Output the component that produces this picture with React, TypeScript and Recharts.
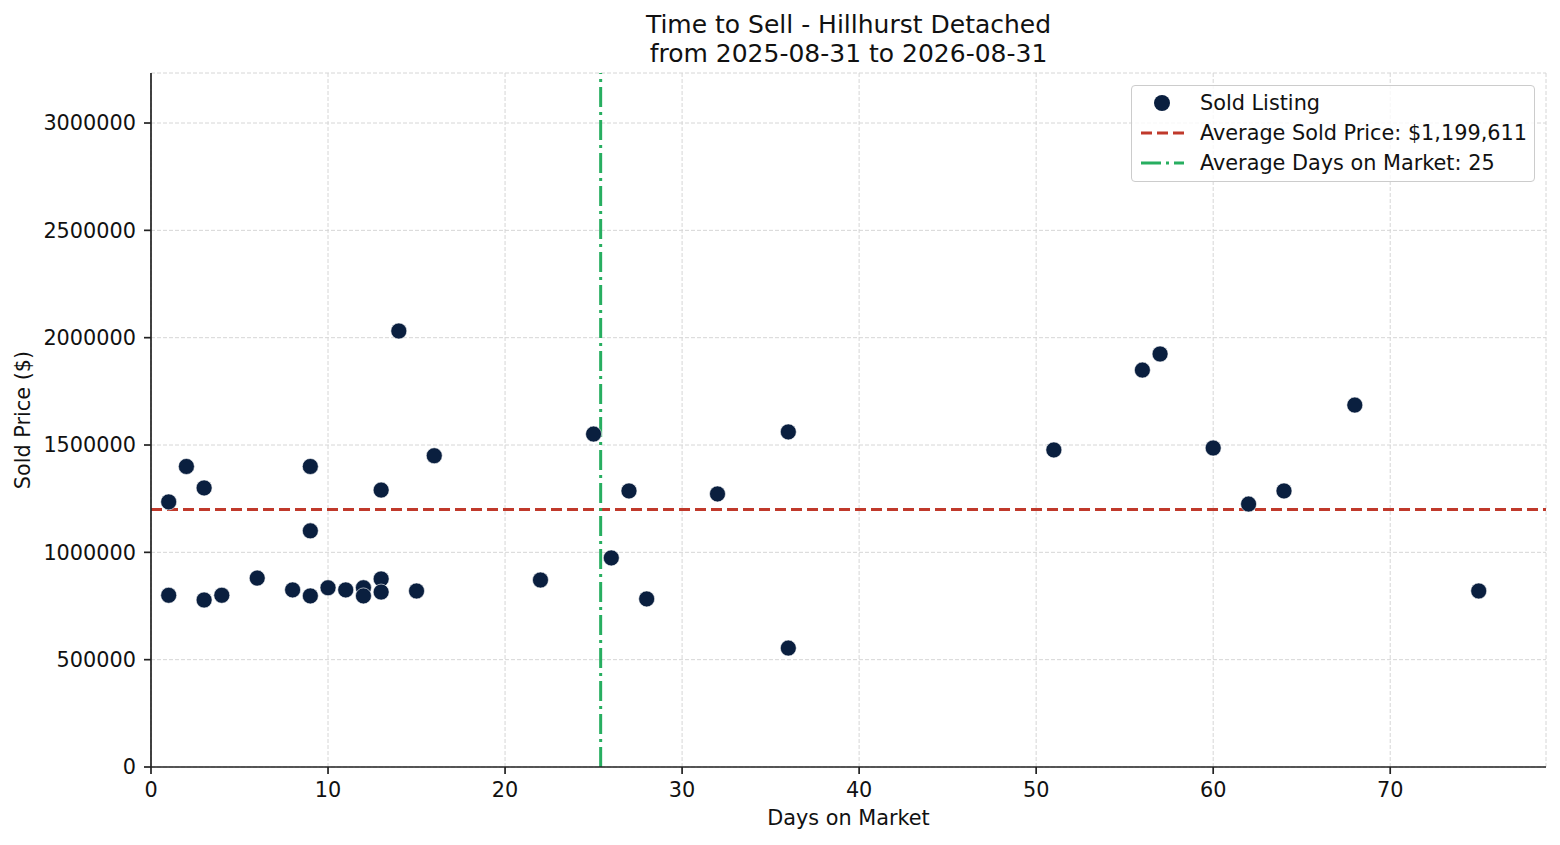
import React from "react";
import {
  ScatterChart,
  Scatter,
  XAxis,
  YAxis,
  CartesianGrid,
  ReferenceLine,
} from "recharts";

// ─── Data ─────────────────────────────────────────────────────────────────────

const daysOnMarket = [
  1, 1, 2, 3, 3, 4, 6, 8, 9, 9, 9, 10, 11, 12, 12, 13, 13, 13, 14, 15, 16, 22,
  25, 26, 27, 28, 32, 36, 36, 51, 56, 57, 60, 62, 64, 68, 75,
];

const soldPrices = [
  1235000, 800000, 1400000, 1300000, 778000, 800000, 880000, 825000, 1400000,
  1100000, 797000, 835000, 825000, 835000, 797000, 1290000, 876000, 815000,
  2031000, 820000, 1450000, 871000, 1551000, 974000, 1286000, 783000, 1272000,
  1561000, 554000, 1477000, 1849000, 1924000, 1486000, 1225000, 1286000,
  1686000, 820000,
];

const avgSoldPrice = 1199611;
const avgDaysLine = 25.4;
const avgDaysLabel = 25;

const xTicks = [0, 10, 20, 30, 40, 50, 60, 70];
const yTicks = [0, 500000, 1000000, 1500000, 2000000, 2500000, 3000000];

const titleLines = [
  "Time to Sell - Hillhurst Detached",
  "from 2025-08-31 to 2026-08-31",
];

const points = daysOnMarket.map((d, i) => ({ days: d, price: soldPrices[i] }));

// ─── Styles ───────────────────────────────────────────────────────────────────

const FONT = "'DejaVu Sans', Verdana, sans-serif";
const NAVY = "#0a1f3f";
const RED = "#c0392b";
const GREEN = "#27ae60";
const INK = "#222";

const Dot = (props: any) => (
  <circle cx={props.cx} cy={props.cy} r={8} fill={NAVY} stroke="#ffffff" strokeWidth={0.6} />
);

const LegendBox: React.FC = () => {
  const rows = [
    { kind: "dot", text: "Sold Listing" },
    { kind: "dash", text: `Average Sold Price: $${avgSoldPrice.toLocaleString("en-US")}` },
    { kind: "dashdot", text: `Average Days on Market: ${avgDaysLabel}` },
  ];
  return (
    <div
      style={{
        position: "absolute",
        left: 1131,
        top: 85,
        width: 402,
        height: 95,
        border: "1px solid #cccccc",
        borderRadius: 4,
        background: "rgba(255,255,255,0.8)",
        fontFamily: FONT,
        fontSize: 20.8,
        color: "#111",
      }}
    >
      {rows.map((r, i) => (
        <div
          key={r.text}
          style={{
            position: "absolute",
            left: 0,
            top: 17 + i * 30 - 15,
            height: 30,
            display: "flex",
            alignItems: "center",
            whiteSpace: "nowrap",
          }}
        >
          <svg width={68} height={30} style={{ display: "block" }}>
            {r.kind === "dot" && <circle cx={30} cy={15} r={8} fill={NAVY} />}
            {r.kind === "dash" && (
              <line x1={9} x2={52} y1={15} y2={15} stroke={RED} strokeWidth={3} strokeDasharray="11 5" />
            )}
            {r.kind === "dashdot" && (
              <line x1={9} x2={52} y1={15} y2={15} stroke={GREEN} strokeWidth={3} strokeDasharray="20 5 3 5" />
            )}
          </svg>
          <span>{r.text}</span>
        </div>
      ))}
    </div>
  );
};

// ─── Chart ────────────────────────────────────────────────────────────────────

export default function App() {
  const tickStyle = { fontSize: 20.8, fill: "#111", fontFamily: FONT };
  return (
    <div
      style={{
        position: "absolute",
        left: 0,
        top: 0,
        width: 1560,
        height: 845,
        background: "#fff",
        fontFamily: FONT,
      }}
    >
      {titleLines.map((t, i) => (
        <div
          key={t}
          style={{
            position: "absolute",
            left: 0,
            width: 1697,
            top: 10 + i * 29,
            lineHeight: "29px",
            fontSize: 25,
            textAlign: "center",
            color: "#111",
            whiteSpace: "nowrap",
          }}
        >
          {t}
        </div>
      ))}

      <ScatterChart
        width={1560}
        height={845}
        margin={{ top: 73, right: 14, bottom: 18, left: 51 }}
      >
        <CartesianGrid stroke="#d6d6d6" strokeWidth={1} strokeDasharray="4 2" />
        <XAxis
          type="number"
          dataKey="days"
          domain={[0, 78.8]}
          ticks={xTicks}
          allowDataOverflow
          height={60}
          tick={tickStyle}
          tickSize={7}
          tickMargin={8}
          axisLine={{ stroke: INK, strokeWidth: 1.7 }}
          tickLine={{ stroke: INK, strokeWidth: 1.7 }}
        />
        <YAxis
          type="number"
          dataKey="price"
          domain={[0, 3233000]}
          ticks={yTicks}
          allowDataOverflow
          width={100}
          tick={tickStyle}
          tickSize={7}
          tickMargin={8}
          axisLine={{ stroke: INK, strokeWidth: 1.7 }}
          tickLine={{ stroke: INK, strokeWidth: 1.7 }}
          tickFormatter={(v) => `${v}`}
        />
        <Scatter data={points} fill={NAVY} shape={Dot} isAnimationActive={false} />
        <ReferenceLine y={avgSoldPrice} stroke={RED} strokeWidth={3} strokeDasharray="11 5" />
        <ReferenceLine x={avgDaysLine} stroke={GREEN} strokeWidth={3} strokeDasharray="20 5 3 5" />
      </ScatterChart>

      <div
        style={{
          position: "absolute",
          left: 0,
          width: 1697,
          top: 808,
          lineHeight: 1,
          fontSize: 20.8,
          textAlign: "center",
          color: "#111",
        }}
      >
        Days on Market
      </div>
      <div
        style={{
          position: "absolute",
          left: 23,
          top: 420,
          transform: "translate(-50%, -50%) rotate(-90deg)",
          lineHeight: 1,
          fontSize: 20.8,
          color: "#111",
          whiteSpace: "nowrap",
        }}
      >
        Sold Price ($)
      </div>

      <LegendBox />
    </div>
  );
}
